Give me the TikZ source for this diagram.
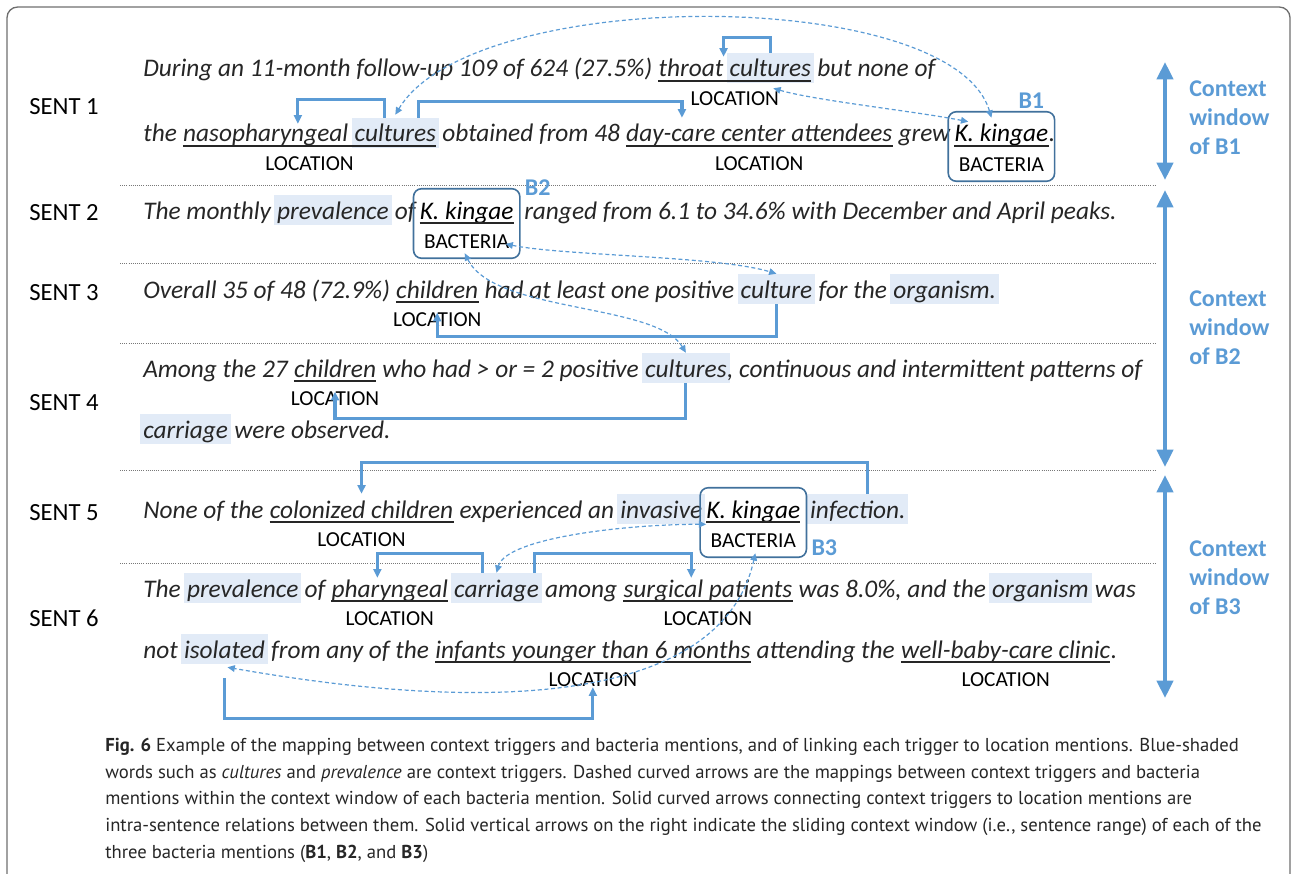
\documentclass[tikz,border=0pt]{standalone}
\usepackage{fontspec}
\setmainfont{Carlito}
\newfontfamily\capfont{PT Sans}
\usepackage{tikz}
\usetikzlibrary{arrows.meta, positioning, fit, backgrounds, calc}
\definecolor{relBlue}{RGB}{91,155,213}
\definecolor{trigFill}{RGB}{226,235,247}
\definecolor{boxBlue}{RGB}{65,113,156}
\definecolor{sepGray}{RGB}{120,120,120}
\definecolor{frameGray}{RGB}{110,110,110}
\definecolor{txtDark}{RGB}{38,38,38}
\newcommand\sentfont{\fontsize{19pt}{22pt}\selectfont\itshape}
\newcommand\lblfont{\fontsize{16pt}{18pt}\selectfont}

\begin{document}
\begin{tikzpicture}[
  x=0.75pt, y=-0.75pt,
  node distance=4.3pt,
  seg/.style={inner sep=0pt, text height=18pt, text depth=4.5pt, font=\sentfont, text=txtDark},
  kk/.style={seg, text=black},
  loclbl/.style={inner sep=0pt, font=\lblfont, text=black},
  bactlbl/.style={inner xsep=0pt, inner ysep=2.25pt, font=\lblfont, text=black},
  bactbox/.style={draw=boxBlue, line width=1.2pt, rounded corners=6pt, inner sep=4.5pt},
  blbl/.style={inner sep=0pt, font=\fontsize{18pt}{20pt}\selectfont\bfseries, text=relBlue},
  sentlbl/.style={inner sep=0pt, anchor=west, font=\fontsize{18.5pt}{20pt}\selectfont, text=black},
  winlbl/.style={inner sep=0pt, anchor=west, align=left,
                 font=\fontsize{18pt}{21.75pt}\selectfont\bfseries, text=relBlue},
  capnode/.style={inner sep=0pt, anchor=north west, align=left,
                  font=\capfont\fontsize{14pt}{20pt}\selectfont, text=black!85},
  rel/.style={-{Triangle[width=6pt,length=6.5pt]}, line width=2.4pt, color=relBlue},
  map/.style={{Triangle[width=5pt,length=5.5pt]}-{Triangle[width=5pt,length=5.5pt]},
              line width=0.9pt, dash pattern=on 3pt off 2pt, color=relBlue},
  win/.style={{Triangle[width=12pt,length=13pt]}-{Triangle[width=12pt,length=13pt]},
              line width=3pt, color=relBlue},
  uline/.style={line width=1.1pt, color=txtDark},
  sep/.style={densely dotted, line width=0.6pt, color=sepGray},
]
  \useasboundingbox (0,0) rectangle (1292,874);
  \draw[frameGray, line width=1pt, rounded corners=8pt] (7,874) -- (7,7) -- (1290,7) -- (1290,874);

  % sentence labels
  \foreach \i/\y in {1/107, 2/213, 3/293, 4/403, 5/513, 6/618}
    \node[sentlbl] (sent\i) at (29,\y) {SENT \i};

  % separators
  \foreach \y in {185, 263, 343, 470, 563}
    \draw[sep] (120,\y) -- (1156,\y);

  % SENT 1
  \node[seg, anchor=base west] (s1a) at (143,77) {During an 11-month follow-up 109 of 624 (27.5\%)};
  \node[seg, base right=of s1a] (throat) {throat};
  \node[seg, base right=of throat] (cult0) {cultures};
  \node[seg, base right=of cult0] (s1b) {but none of};
  \node[seg, anchor=base west] (s1c) at (143,142) {the};
  \node[seg, base right=of s1c] (naso) {nasopharyngeal};
  \node[seg, base right=of naso] (cult1) {cultures};
  \node[seg, base right=of cult1] (s1d) {obtained from 48};
  \node[seg, base right=of s1d] (dca) {day-care center attendees};
  \node[seg, base right=of dca] (s1e) {grew};
  \node[bactlbl, anchor=west] (bac1) at ([shift={(8,23)}]s1e.base east) {BACTERIA};
  \node[kk, anchor=base] (kk1) at (bac1.center |- s1e.base) {K. kingae};
  \node[seg, base right=0pt of kk1] (s1f) {.};
  \node[bactbox, fit=(kk1)(bac1)] (box1) {};
  \node[blbl, anchor=south east] (b1lbl) at ([shift={(-11,-2)}]box1.north east) {B1};

  % SENT 2
  \node[seg, anchor=base west] (s2a) at (143,219) {The monthly};
  \node[seg, base right=of s2a] (prev2) {prevalence};
  \node[seg, base right=of prev2] (s2b) {of};
  \node[bactlbl, anchor=west] (bac2) at ([shift={(8,23)}]s2b.base east) {BACTERIA};
  \node[kk, anchor=base] (kk2) at (bac2.center |- s2b.base) {K. kingae};
  \node[bactbox, fit=(kk2)(bac2)] (box2) {};
  \node[blbl, anchor=north west] (b2lbl) at ([shift={(4,-8)}]box2.north east) {B2};
  \node[seg, anchor=base west] (s2c) at ([xshift=2.5pt]box2.east |- s2b.base)
    {ranged from 6.1 to 34.6\% with December and April peaks.};

  % SENT 3
  \node[seg, anchor=base west] (s3a) at (143,298) {Overall 35 of 48 (72.9\%)};
  \node[seg, base right=of s3a] (child3) {children};
  \node[seg, base right=of child3] (s3b) {had at least one positive};
  \node[seg, base right=of s3b] (cult3) {culture};
  \node[seg, base right=of cult3] (s3c) {for the};
  \node[seg, base right=of s3c] (org3) {organism.};

  % SENT 4
  \node[seg, anchor=base west] (s4a) at (143,377) {Among the 27};
  \node[seg, base right=of s4a] (child4) {children};
  \node[seg, base right=of child4] (s4b) {who had > or = 2 positive};
  \node[seg, base right=of s4b] (cult4) {cultures};
  \node[seg, base right=0pt of cult4] (s4c) {, continuous and intermittent patterns of};
  \node[seg, anchor=base west] (carr4) at (143,438) {carriage};
  \node[seg, base right=of carr4] (s4d) {were observed.};

  % SENT 5
  \node[seg, anchor=base west] (s5a) at (143,518) {None of the};
  \node[seg, base right=of s5a] (colon) {colonized children};
  \node[seg, base right=of colon] (s5b) {experienced an};
  \node[seg, base right=of s5b] (inv5) {invasive};
  \node[bactlbl, anchor=west] (bac3) at ([shift={(8,23)}]inv5.base east) {BACTERIA};
  \node[kk, anchor=base] (kk3) at (bac3.center |- inv5.base) {K. kingae};
  \node[bactbox, fit=(kk3)(bac3)] (box3) {};
  \node[blbl, anchor=south west] (b3lbl) at ([shift={(4,-2)}]box3.south east) {B3};
  \node[seg, anchor=base west] (infect) at ([xshift=2pt]box3.east |- inv5.base) {infection.};

  % SENT 6
  \node[seg, anchor=base west] (s6a) at (143,597) {The};
  \node[seg, base right=of s6a] (prev6) {prevalence};
  \node[seg, base right=of prev6] (s6b) {of};
  \node[seg, base right=of s6b] (phar) {pharyngeal};
  \node[seg, base right=of phar] (carr6) {carriage};
  \node[seg, base right=of carr6] (s6c) {among};
  \node[seg, base right=of s6c] (surg) {surgical patients};
  \node[seg, base right=of surg] (s6d) {was 8.0\%, and the};
  \node[seg, base right=of s6d] (org6) {organism};
  \node[seg, base right=of org6] (s6e) {was};
  \node[seg, anchor=base west] (s6f) at (143,658) {not};
  \node[seg, base right=of s6f] (isol) {isolated};
  \node[seg, base right=of isol] (s6g) {from any of the};
  \node[seg, base right=of s6g] (inf) {infants younger than 6 months};
  \node[seg, base right=of inf] (s6h) {attending the};
  \node[seg, base right=of s6h] (well) {well-baby-care clinic};
  \node[seg, base right=0pt of well] (s6i) {.};

  % context triggers
  \begin{scope}[on background layer]
    \foreach \t in {cult0, cult1, prev2, cult3, org3, cult4, carr4, inv5, infect, prev6, carr6, org6, isol}
      \fill[trigFill] ([xshift=-2pt]\t.south west) rectangle ([xshift=2pt]\t.north east);
  \end{scope}

  % location and bacteria mentions
  \foreach \a/\b in {throat/cult0, naso/cult1, dca/dca, kk1/kk1, kk2/kk2, child3/child3, child4/child4,
                     colon/colon, kk3/kk3, phar/phar, surg/surg, inf/inf, well/well}
    \draw[uline] ([shift={(0,4)}]\a.base west) -- ([shift={(0,4)}]\b.base east);
  \foreach \a/\b/\n in {throat/cult0/lthroat, naso/cult1/lnaso, dca/dca/ldca, child3/child3/lchild3,
                        child4/child4/lchild4, colon/colon/lcolon, phar/phar/lphar, surg/surg/lsurg,
                        inf/inf/linf, well/well/lwell}
    \node[loclbl] (\n) at ($(\a.base west)!0.5!(\b.base east)+(0,22)$) {LOCATION};

  % trigger -> location
  \draw[rel] (cult0.north) -- ++(0,-15) -| ([shift={(0,4)}]throat.north east);
  \draw[rel] ([shift={(30,0)}]cult1.north west) -- ++(0,-18) -| ([shift={(115,6)}]naso.north west);
  \draw[rel] ([shift={(64,0)}]cult1.north west) -- ++(0,-16) -| ([shift={(56,0)}]dca.north west);
  \draw[rel] (cult3.south) -- ++(0,32) -| (lchild3.north);
  \draw[rel] (cult4.south) -- ++(0,35) -| (lchild4.north);
  \draw[rel] ([shift={(10,0)}]infect.north) -- ++(0,-31) -| (colon.north);
  \draw[rel] ([shift={(29,0)}]carr6.north west) -- ++(0,-19) -| ([shift={(46,5)}]phar.north west);
  \draw[rel] ([shift={(81,0)}]carr6.north west) -- ++(0,-19) -| ([shift={(68,5)}]surg.north west);
  \draw[rel] ([shift={(0,14)}]isol.south) -- ++(0,40) -| (linf.south);

  % trigger <-> bacteria
  \draw[map] ([shift={(0,-3)}]cult1.north) .. controls +(78,-130) and +(-39,-132) .. ([shift={(-10,0)}]kk1.north);
  \draw[map] ([shift={(3,5)}]cult0.south) .. controls +(40,12) and +(-50,-10) .. ([shift={(14,4)}]kk1.north west);
  \draw[map] ([shift={(-4,2)}]bac2.east) .. controls +(60,12) and +(-60,-18) .. (cult3.north);
  \draw[map] ([shift={(-2,1)}]bac2.south) .. controls +(30,60) and +(-30,-50) .. (cult4.north);
  \draw[map] (kk3.south west) .. controls +(-80,0) and +(10,-35) .. (carr6.north);
  \draw[map] ([shift={(2,2)}]bac3.south) .. controls +(-30,137) and +(300,53) .. ([shift={(3,3)}]isol.south);

  % context windows
  \coordinate (w1a) at (1165,62);  \coordinate (w1b) at (1165,180);
  \coordinate (w2a) at (1165,190); \coordinate (w2b) at (1165,467);
  \coordinate (w3a) at (1165,475); \coordinate (w3b) at (1165,698);
  \draw[win] (w1a) -- (w1b);
  \draw[win] (w2a) -- (w2b);
  \draw[win] (w3a) -- (w3b);
  \node[winlbl] (win1) at (1189,118) {Context\\window\\of B1};
  \node[winlbl] (win2) at (1189,328) {Context\\window\\of B2};
  \node[winlbl] (win3) at (1189,578) {Context\\window\\of B3};

  % caption
  \node[capnode] (cap) at (105,738) {\textbf{Fig. 6} Example of the mapping between context triggers and bacteria mentions, and of linking each trigger to location mentions. Blue-shaded\\
    words such as \textit{cultures} and \textit{prevalence} are context triggers. Dashed curved arrows are the mappings between context triggers and bacteria\\
    mentions within the context window of each bacteria mention. Solid curved arrows connecting context triggers to location mentions are\\
    intra-sentence relations between them. Solid vertical arrows on the right indicate the sliding context window (i.e., sentence range) of each of the\\
    three bacteria mentions (\textbf{B1}, \textbf{B2}, and \textbf{B3})};
\end{tikzpicture}
\end{document}
